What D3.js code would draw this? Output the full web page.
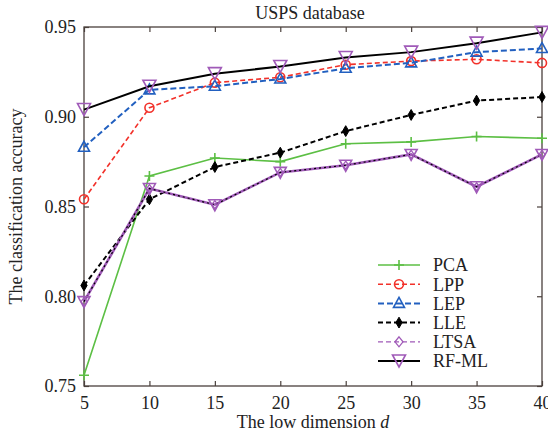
<!DOCTYPE html>
<html><head><meta charset="utf-8">
<script src="https://cdn.jsdelivr.net/npm/d3@7"></script>
<style>body{margin:0;background:#fff}svg{display:block}</style>
</head><body>
<svg id="c" width="548" height="435"></svg>
<script>
const dims = [5,10,15,20,25,30,35,40];
const yTicks = [0.75,0.80,0.85,0.90,0.95];
const pca  = [0.756,0.867,0.877,0.875,0.885,0.886,0.889,0.888];
const lpp  = [0.854,0.905,0.919,0.922,0.929,0.931,0.932,0.930];
const lep  = [0.883,0.915,0.917,0.921,0.927,0.930,0.936,0.938];
const lle  = [0.806,0.854,0.872,0.880,0.892,0.901,0.909,0.911];
const ltsa = [0.797,0.860,0.851,0.869,0.873,0.879,0.861,0.879];
const rfml = [0.904,0.917,0.924,0.928,0.933,0.936,0.941,0.947];
const names = ["PCA","LPP","LEP","LLE","LTSA","RF-ML"];

const series = [
  {name:names[0], v:pca,  color:"#5cbf44", dash:null, w:1.6, marker:"plus"},
  {name:names[1], v:lpp,  color:"#f2312a", dash:"5,3", w:1.6, marker:"circle"},
  {name:names[2], v:lep,  color:"#2260c0", dash:"6,3", w:2, marker:"tri"},
  {name:names[3], v:lle,  color:"#000", dash:"5,3", w:2, marker:"star"},
  {name:names[4], v:ltsa, color:"#a05ab8", dash:null, w:2.6, marker:"ltsa"},
  {name:names[5], v:rfml, color:"#000", dash:null, w:2, marker:"dtri"}
];

const svg = d3.select("#c");
const L=84, R=542, T=27, B=386;
const x = d3.scaleLinear().domain([5,40]).range([L,R]);
const y = d3.scaleLinear().domain([0.75,0.95]).range([B,T]);
const font = "'Liberation Serif','Times New Roman',serif";
const frameCol = "#4a403c";

svg.append("rect").attr("x",L).attr("y",T).attr("width",R-L).attr("height",B-T)
  .attr("fill","none").attr("stroke",frameCol).attr("stroke-width",1.3);

const tickLen = 5;
const xb = svg.append("g").attr("transform",`translate(0,${B})`)
  .call(d3.axisBottom(x).tickValues(dims).tickSize(-tickLen).tickPadding(10).tickFormat(d3.format("d")));
const xt = svg.append("g").attr("transform",`translate(0,${T})`)
  .call(d3.axisTop(x).tickValues(dims).tickSize(-tickLen).tickFormat(""));
const yl = svg.append("g").attr("transform",`translate(${L},0)`)
  .call(d3.axisLeft(y).tickValues(yTicks).tickSize(-tickLen).tickPadding(8).tickFormat(d3.format(".2f")));
const yr = svg.append("g").attr("transform",`translate(${R},0)`)
  .call(d3.axisRight(y).tickValues(yTicks).tickSize(-tickLen).tickFormat(""));
[xb,xt,yl,yr].forEach(g=>{
  g.select(".domain").remove();
  g.selectAll("line").attr("stroke",frameCol).attr("stroke-width",1.2);
  g.selectAll("text").attr("font-family",font).attr("font-size",18).attr("fill","#222");
});
xb.selectAll("text").attr("dy","0.71em");

svg.append("text").attr("x",(L+R)/2-3).attr("y",19).attr("text-anchor","middle")
  .attr("font-family",font).attr("font-size",18).attr("fill","#222").text("USPS database");
const xl = svg.append("text").attr("x",(L+R)/2).attr("y",428).attr("text-anchor","middle")
  .attr("font-family",font).attr("font-size",18).attr("fill","#222");
xl.append("tspan").text("The low dimension ");
xl.append("tspan").attr("font-style","italic").text("d");
svg.append("text").attr("transform",`translate(22,${(T+B)/2}) rotate(-90)`).attr("text-anchor","middle")
  .attr("font-family",font).attr("font-size",18).attr("fill","#222").text("The classification accuracy");

function drawMarker(g, type, cx, cy){
  if(type==="plus"){
    g.append("path").attr("d",`M${cx-5},${cy}H${cx+5}M${cx},${cy-5}V${cy+5}`).attr("stroke","#5cbf44").attr("stroke-width",1.6);
  } else if(type==="circle"){
    g.append("circle").attr("cx",cx).attr("cy",cy).attr("r",4.5).attr("fill","none").attr("stroke","#f2312a").attr("stroke-width",1.6);
  } else if(type==="tri"){
    g.append("path").attr("d",`M${cx},${cy-6}L${cx+5.5},${cy+4}L${cx-5.5},${cy+4}Z`).attr("fill","none").attr("stroke","#2260c0").attr("stroke-width",1.6);
  } else if(type==="star"){
    g.append("path").attr("d",d3.symbol(d3.symbolDiamond,34)()).attr("transform",`translate(${cx},${cy})`).attr("fill","#000").attr("stroke","#000").attr("stroke-width",1);
  } else if(type==="ltsa"){
    g.append("path").attr("d",`M${cx-6},${cy-5}L${cx+6},${cy-5}L${cx},${cy+6}Z`).attr("fill","none").attr("stroke","#a05ab8").attr("stroke-width",1.6);
    g.append("path").attr("d",`M${cx},${cy-4}L${cx+3},${cy}L${cx},${cy+4}L${cx-3},${cy}Z`).attr("fill","none").attr("stroke","#a05ab8").attr("stroke-width",1.3);
  } else if(type==="diamond"){
    g.append("path").attr("d",`M${cx},${cy-5}L${cx+4},${cy}L${cx},${cy+5}L${cx-4},${cy}Z`).attr("fill","none").attr("stroke","#a05ab8").attr("stroke-width",1.3);
  } else if(type==="dtri"){
    g.append("path").attr("d",`M${cx-6.5},${cy-6}L${cx+6.5},${cy-6}L${cx},${cy+6}Z`).attr("fill","none").attr("stroke","#a05ab8").attr("stroke-width",1.6);
  }
}

const line = d3.line().x((d,i)=>x(dims[i])).y(d=>y(d));
const plot = svg.append("g");
series.forEach(s=>{
  const p = plot.append("path").datum(s.v).attr("d",line).attr("fill","none")
    .attr("stroke",s.color).attr("stroke-width",s.w);
  if(s.dash) p.attr("stroke-dasharray",s.dash);
  if(s.marker==="ltsa"){
    plot.append("path").datum(s.v).attr("d",line).attr("fill","none")
      .attr("stroke","#000").attr("stroke-width",1.2).attr("stroke-dasharray","2,3");
  }
  s.v.forEach((v,i)=>drawMarker(plot,s.marker,x(dims[i]),y(v)));
});

const lg = svg.append("g");
const legY0 = 265, legDy = 19.2;
series.forEach((s,i)=>{
  const yy = legY0 + i*legDy;
  const lx1 = 378, lx2 = 420;
  const ln = lg.append("line").attr("x1",lx1).attr("x2",lx2).attr("y1",yy).attr("y2",yy)
    .attr("stroke",s.color).attr("stroke-width", s.marker==="ltsa"?1.2:(s.marker==="dtri"?2.2:s.w));
  if(s.dash) ln.attr("stroke-dasharray",s.dash);
  if(s.marker==="ltsa") ln.attr("stroke-dasharray","5,3");
  const mk = s.marker==="ltsa" ? "diamond" : s.marker;
  drawMarker(lg, mk, (lx1+lx2)/2, yy);
  lg.append("text").attr("x",433).attr("y",yy).attr("dy","0.35em")
    .attr("font-family",font).attr("font-size",18).attr("fill","#222").text(s.name);
});
</script>
</body></html>
